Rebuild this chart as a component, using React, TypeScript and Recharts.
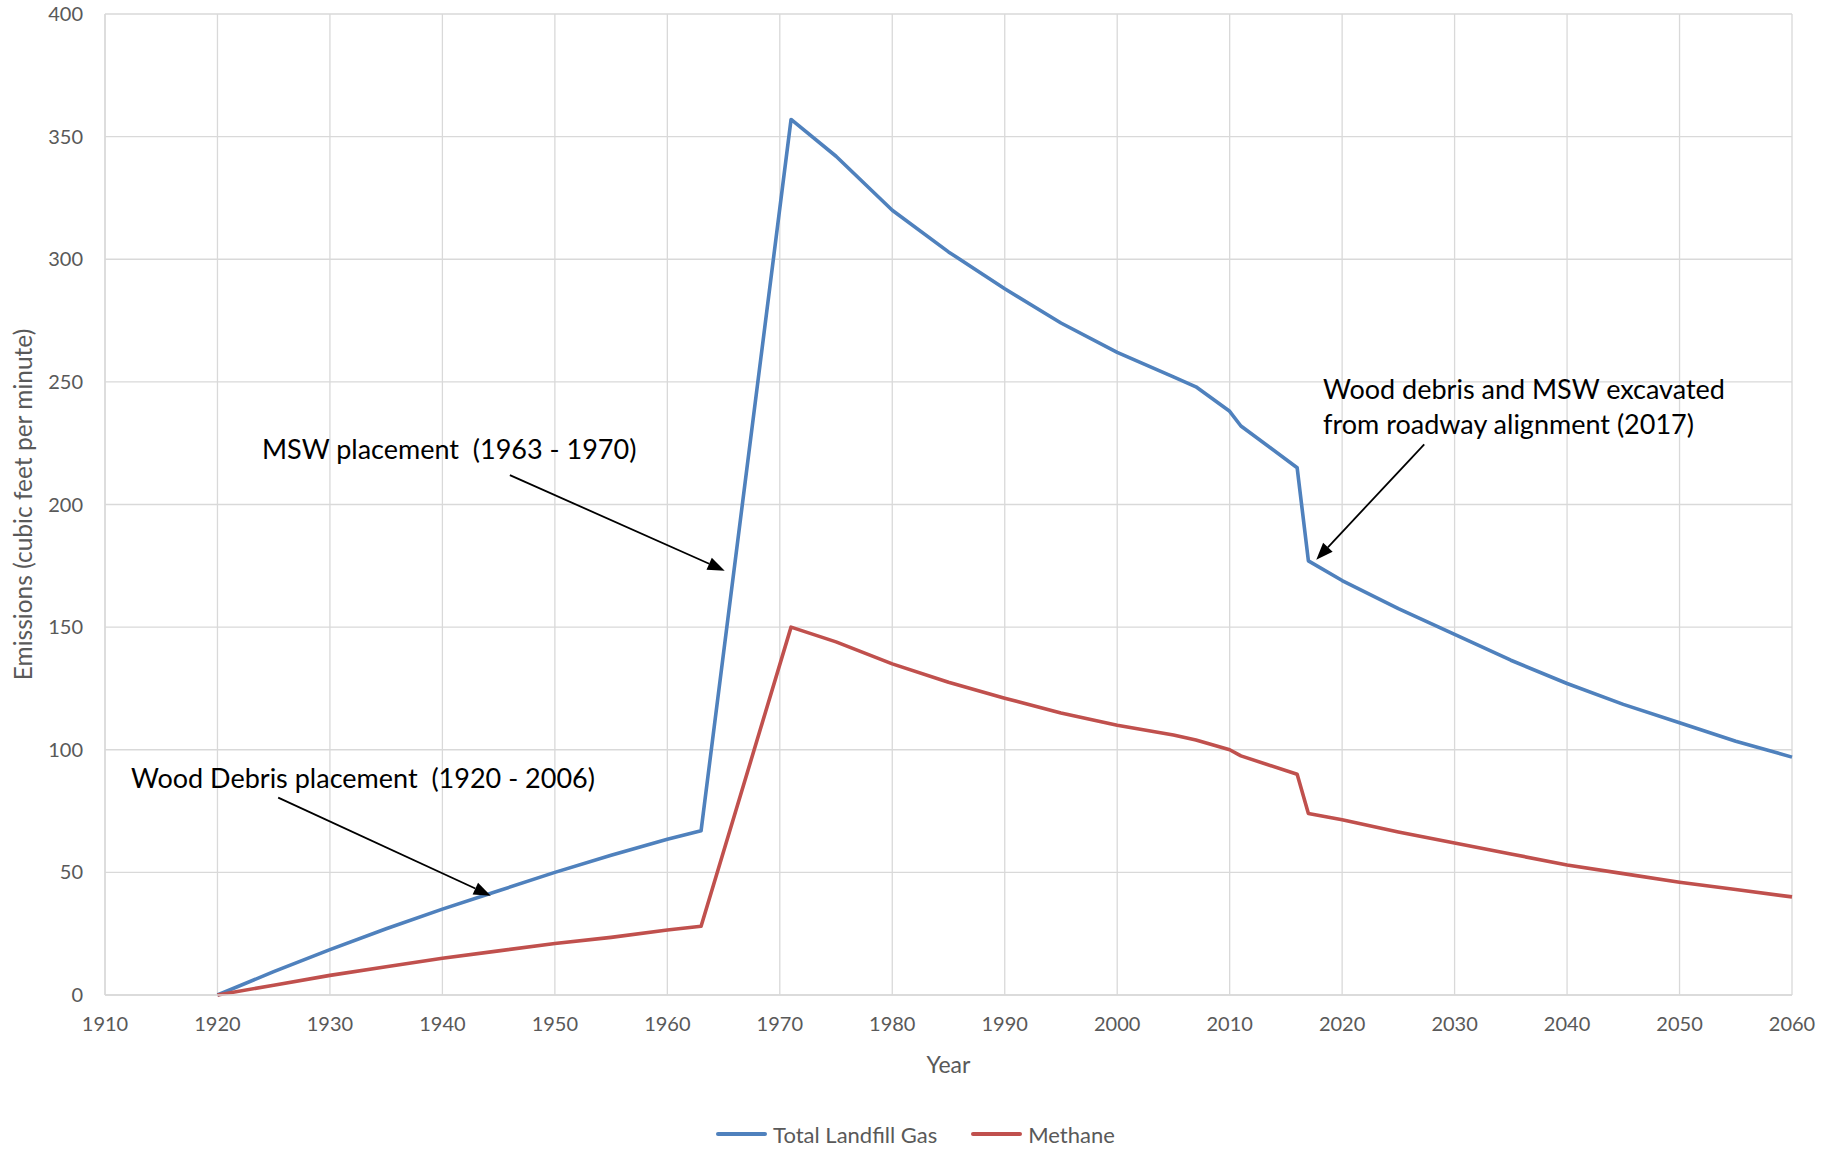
import React from 'react';
import {
    CartesianGrid,
    Legend,
    Line,
    LineChart,
    ReferenceLine,
    XAxis,
    YAxis,
} from 'recharts';

// Values
const years = [
    1920, 1925, 1930, 1935, 1940, 1945, 1950, 1955, 1960, 1963, 1971, 1975,
    1980, 1985, 1990, 1995, 2000, 2005, 2007, 2010, 2011, 2016, 2017, 2020,
    2025, 2030, 2035, 2040, 2045, 2050, 2055, 2060,
];

const totalLandfillGas = [
    0, 9.5, 18.5, 27, 35, 42.5, 50, 57, 63.5, 67, 357, 342, 320, 303, 288,
    274, 262, 252, 248, 238, 232, 215, 177, 169, 157.5, 147, 136.5, 127,
    118.5, 111, 103.5, 97,
];

const methane = [
    0, 4, 8, 11.5, 15, 18, 21, 23.5, 26.5, 28, 150, 144, 135, 127.5, 121, 115,
    110, 106, 104, 100, 97.5, 90, 74, 71.5, 66.5, 62, 57.5, 53, 49.5, 46, 43,
    40,
];

const xTicks = [
    1910, 1920, 1930, 1940, 1950, 1960, 1970, 1980, 1990, 2000, 2010, 2020,
    2030, 2040, 2050, 2060,
];
const yTicks = [0, 50, 100, 150, 200, 250, 300, 350, 400];

const seriesNames = ['Total Landfill Gas', 'Methane'];

// arrows: [fromYear, fromValue, toYear, toValue]
const arrows = [
    [1925.4, 80.5, 1944.3, 40.5],
    [1946.0, 212, 1965.1, 173],
    [2027.3, 224.5, 2017.7, 177.5],
];

const chartData = years.map((year, i) => ({
    year,
    total: totalLandfillGas[i],
    methane: methane[i],
}));

const BLUE = '#4f81bd';
const RED = '#c0504d';
const GRID = '#d9d9d9';
const TEXT = '#595959';
const FONT = 'Lato, "Open Sans", sans-serif';

const arrowShape = (props: any) => {
    const { x1, y1, x2, y2 } = props;
    const ang = Math.atan2(y2 - y1, x2 - x1);
    const len = 17;
    const half = 6.5;
    const bx = x2 - len * Math.cos(ang);
    const by = y2 - len * Math.sin(ang);
    const px = -Math.sin(ang) * half;
    const py = Math.cos(ang) * half;
    return (
        <g>
            <line x1={x1} y1={y1} x2={bx} y2={by} stroke="#000" strokeWidth={1.8} />
            <polygon
                points={`${x2},${y2} ${bx + px},${by + py} ${bx - px},${by - py}`}
                fill="#000"
            />
        </g>
    );
};

const LegendContent = () => (
    <div
        style={{
            display: 'flex',
            justifyContent: 'center',
            alignItems: 'center',
            gap: 34,
            fontFamily: FONT,
            fontSize: 22,
            color: TEXT,
            height: 30,
            marginLeft: -10,
        }}
    >
        {seriesNames.map((name, i) => (
            <div key={name} style={{ display: 'flex', alignItems: 'center' }}>
                <span
                    style={{
                        display: 'inline-block',
                        width: 51,
                        height: 4,
                        borderRadius: 2,
                        background: i === 0 ? BLUE : RED,
                        marginRight: 6,
                    }}
                />
                {name}
            </div>
        ))}
    </div>
);

const noteStyle: React.CSSProperties = {
    position: 'absolute',
    fontFamily: FONT,
    fontSize: 27,
    lineHeight: '35px',
    color: '#000',
    whiteSpace: 'pre',
};

export default function App() {
    return (
        <div
            style={{
                position: 'absolute',
                left: 0,
                top: 0,
                width: 1841,
                height: 1149,
                background: '#fff',
            }}
        >
            <LineChart
                width={1841}
                height={1149}
                data={chartData}
                margin={{ top: 14, right: 49, left: 0, bottom: 0 }}
            >
                <CartesianGrid stroke={GRID} strokeWidth={1.3} />
                <XAxis
                    dataKey="year"
                    type="number"
                    domain={[1910, 2060]}
                    ticks={xTicks}
                    height={124}
                    stroke={GRID}
                    strokeWidth={1.3}
                    tickLine={false}
                    tickSize={0}
                    tickMargin={22}
                    tick={{ fill: TEXT, fontSize: 20, fontFamily: FONT }}
                    label={{
                        value: 'Year',
                        position: 'insideBottom',
                        offset: 46,
                        style: { fill: TEXT, fontSize: 23, fontFamily: FONT },
                    }}
                />
                <YAxis
                    type="number"
                    domain={[0, 400]}
                    ticks={yTicks}
                    width={105}
                    stroke={GRID}
                    strokeWidth={1.3}
                    tickLine={false}
                    tickSize={0}
                    tickMargin={22}
                    tick={{ fill: TEXT, fontSize: 20, fontFamily: FONT }}
                    label={{
                        value: 'Emissions (cubic feet per minute)',
                        angle: -90,
                        position: 'insideLeft',
                        offset: 23,
                        style: {
                            fill: TEXT,
                            fontSize: 24.5,
                            fontFamily: FONT,
                            textAnchor: 'middle',
                        },
                    }}
                />
                <Legend
                    verticalAlign="bottom"
                    height={30}
                    wrapperStyle={{ left: 0, width: 1841 }}
                    content={<LegendContent />}
                />
                <Line
                    type="linear"
                    dataKey="total"
                    name={seriesNames[0]}
                    stroke={BLUE}
                    strokeWidth={3.6}
                    strokeLinejoin="round"
                    dot={false}
                    activeDot={false}
                    isAnimationActive={false}
                />
                <Line
                    type="linear"
                    dataKey="methane"
                    name={seriesNames[1]}
                    stroke={RED}
                    strokeWidth={3.6}
                    strokeLinejoin="round"
                    dot={false}
                    activeDot={false}
                    isAnimationActive={false}
                />
                {arrows.map((a, i) => (
                    <ReferenceLine
                        key={i}
                        segment={[
                            { x: a[0], y: a[1] },
                            { x: a[2], y: a[3] },
                        ]}
                        shape={arrowShape}
                        ifOverflow="visible"
                    />
                ))}
            </LineChart>

            <div style={{ ...noteStyle, left: 131, top: 760 }}>
                {'Wood Debris placement  (1920 - 2006)'}
            </div>
            <div style={{ ...noteStyle, left: 262, top: 431 }}>
                {'MSW placement  (1963 - 1970)'}
            </div>
            <div style={{ ...noteStyle, left: 1323, top: 371 }}>
                {'Wood debris and MSW excavated\nfrom roadway alignment (2017)'}
            </div>
        </div>
    );
}
